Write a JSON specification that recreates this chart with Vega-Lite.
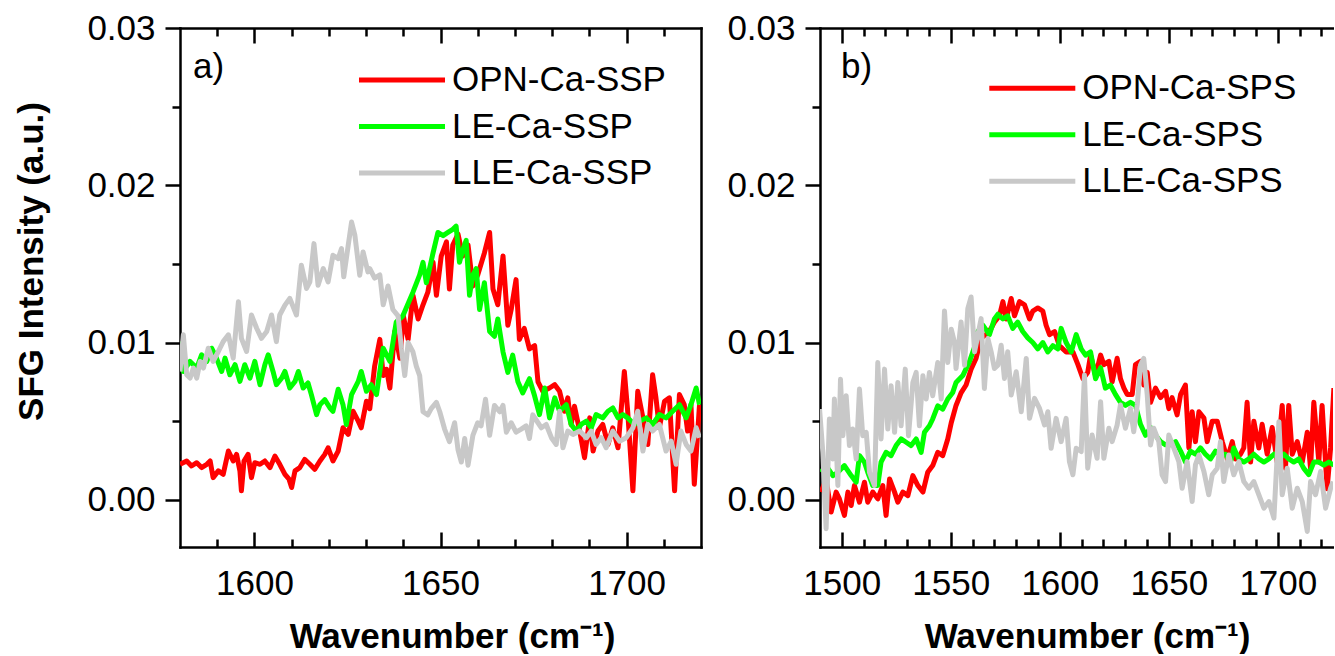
{
  "$schema": "https://vega.github.io/schema/vega-lite/v6.json",
  "background": "white",
  "padding": {"left": 14, "top": 11, "right": 0, "bottom": 0},
  "config": {
    "view": {"stroke": null},
    "font": "Liberation Sans",
    "axis": {"grid": false, "domainColor": "#000000", "domainWidth": 2.5, "domainCap": "square", "tickColor": "#000000", "tickWidth": 2.5, "labelColor": "#000000", "titleColor": "#000000", "labelFont": "Liberation Sans", "titleFont": "Liberation Sans", "labelFontSize": 35, "titleFontSize": 35, "titleFontWeight": "bold", "labelOverlap": false, "labelFlush": false}
  },
  "datasets": {
    "ssp": [
      {"s":"OPN-Ca-SSP","x":1580.0,"y":0.00226},{"s":"OPN-Ca-SSP","x":1581.8,"y":0.00247},{"s":"OPN-Ca-SSP","x":1583.1,"y":0.00215},{"s":"OPN-Ca-SSP","x":1584.5,"y":0.00236},{"s":"OPN-Ca-SSP","x":1585.8,"y":0.00205},{"s":"OPN-Ca-SSP","x":1587.2,"y":0.00226},{"s":"OPN-Ca-SSP","x":1588.1,"y":0.00247},{"s":"OPN-Ca-SSP","x":1588.9,"y":0.00141},{"s":"OPN-Ca-SSP","x":1590.3,"y":0.00184},{"s":"OPN-Ca-SSP","x":1591.6,"y":0.00162},{"s":"OPN-Ca-SSP","x":1593.0,"y":0.0031},{"s":"OPN-Ca-SSP","x":1594.3,"y":0.00247},{"s":"OPN-Ca-SSP","x":1595.2,"y":0.00289},{"s":"OPN-Ca-SSP","x":1596.1,"y":0.00184},{"s":"OPN-Ca-SSP","x":1596.5,"y":0.00057},{"s":"OPN-Ca-SSP","x":1597.2,"y":0.00247},{"s":"OPN-Ca-SSP","x":1598.3,"y":0.00289},{"s":"OPN-Ca-SSP","x":1599.2,"y":0.00141},{"s":"OPN-Ca-SSP","x":1600.1,"y":0.00236},{"s":"OPN-Ca-SSP","x":1601.5,"y":0.00226},{"s":"OPN-Ca-SSP","x":1602.8,"y":0.00247},{"s":"OPN-Ca-SSP","x":1604.2,"y":0.00205},{"s":"OPN-Ca-SSP","x":1605.5,"y":0.00278},{"s":"OPN-Ca-SSP","x":1606.8,"y":0.00226},{"s":"OPN-Ca-SSP","x":1608.2,"y":0.00162},{"s":"OPN-Ca-SSP","x":1609.3,"y":0.00131},{"s":"OPN-Ca-SSP","x":1610.0,"y":0.00078},{"s":"OPN-Ca-SSP","x":1610.9,"y":0.00184},{"s":"OPN-Ca-SSP","x":1612.2,"y":0.00205},{"s":"OPN-Ca-SSP","x":1613.5,"y":0.00257},{"s":"OPN-Ca-SSP","x":1614.9,"y":0.00226},{"s":"OPN-Ca-SSP","x":1616.2,"y":0.00194},{"s":"OPN-Ca-SSP","x":1617.6,"y":0.00247},{"s":"OPN-Ca-SSP","x":1618.9,"y":0.00289},{"s":"OPN-Ca-SSP","x":1619.8,"y":0.00331},{"s":"OPN-Ca-SSP","x":1621.1,"y":0.00247},{"s":"OPN-Ca-SSP","x":1622.5,"y":0.0031},{"s":"OPN-Ca-SSP","x":1623.8,"y":0.00458},{"s":"OPN-Ca-SSP","x":1625.2,"y":0.00416},{"s":"OPN-Ca-SSP","x":1626.5,"y":0.00563},{"s":"OPN-Ca-SSP","x":1627.9,"y":0.005},{"s":"OPN-Ca-SSP","x":1628.7,"y":0.00458},{"s":"OPN-Ca-SSP","x":1630.1,"y":0.00627},{"s":"OPN-Ca-SSP","x":1631.0,"y":0.0058},{"s":"OPN-Ca-SSP","x":1632.3,"y":0.0085},{"s":"OPN-Ca-SSP","x":1633.7,"y":0.0102},{"s":"OPN-Ca-SSP","x":1634.6,"y":0.0079},{"s":"OPN-Ca-SSP","x":1635.5,"y":0.0083},{"s":"OPN-Ca-SSP","x":1636.4,"y":0.0071},{"s":"OPN-Ca-SSP","x":1637.7,"y":0.0107},{"s":"OPN-Ca-SSP","x":1639.1,"y":0.009},{"s":"OPN-Ca-SSP","x":1640.0,"y":0.0117},{"s":"OPN-Ca-SSP","x":1641.3,"y":0.0102},{"s":"OPN-Ca-SSP","x":1642.6,"y":0.013},{"s":"OPN-Ca-SSP","x":1644.0,"y":0.0115},{"s":"OPN-Ca-SSP","x":1645.3,"y":0.0124},{"s":"OPN-Ca-SSP","x":1646.6,"y":0.0132},{"s":"OPN-Ca-SSP","x":1648.0,"y":0.0151},{"s":"OPN-Ca-SSP","x":1648.9,"y":0.013},{"s":"OPN-Ca-SSP","x":1650.2,"y":0.0155},{"s":"OPN-Ca-SSP","x":1651.6,"y":0.0164},{"s":"OPN-Ca-SSP","x":1652.4,"y":0.0134},{"s":"OPN-Ca-SSP","x":1653.3,"y":0.0162},{"s":"OPN-Ca-SSP","x":1654.7,"y":0.0169},{"s":"OPN-Ca-SSP","x":1656.0,"y":0.0155},{"s":"OPN-Ca-SSP","x":1657.4,"y":0.0162},{"s":"OPN-Ca-SSP","x":1658.7,"y":0.0136},{"s":"OPN-Ca-SSP","x":1660.0,"y":0.0143},{"s":"OPN-Ca-SSP","x":1661.8,"y":0.0157},{"s":"OPN-Ca-SSP","x":1663.2,"y":0.017},{"s":"OPN-Ca-SSP","x":1664.1,"y":0.0134},{"s":"OPN-Ca-SSP","x":1665.4,"y":0.0124},{"s":"OPN-Ca-SSP","x":1666.8,"y":0.0155},{"s":"OPN-Ca-SSP","x":1668.1,"y":0.0111},{"s":"OPN-Ca-SSP","x":1669.0,"y":0.0121},{"s":"OPN-Ca-SSP","x":1670.3,"y":0.014},{"s":"OPN-Ca-SSP","x":1671.2,"y":0.0102},{"s":"OPN-Ca-SSP","x":1672.5,"y":0.0109},{"s":"OPN-Ca-SSP","x":1673.9,"y":0.0096},{"s":"OPN-Ca-SSP","x":1675.3,"y":0.0098},{"s":"OPN-Ca-SSP","x":1676.2,"y":0.0075},{"s":"OPN-Ca-SSP","x":1677.5,"y":0.0069},{"s":"OPN-Ca-SSP","x":1679.3,"y":0.00711},{"s":"OPN-Ca-SSP","x":1680.7,"y":0.00732},{"s":"OPN-Ca-SSP","x":1682.0,"y":0.0069},{"s":"OPN-Ca-SSP","x":1683.3,"y":0.00563},{"s":"OPN-Ca-SSP","x":1684.2,"y":0.00648},{"s":"OPN-Ca-SSP","x":1685.1,"y":0.00479},{"s":"OPN-Ca-SSP","x":1686.0,"y":0.00595},{"s":"OPN-Ca-SSP","x":1687.4,"y":0.00437},{"s":"OPN-Ca-SSP","x":1688.7,"y":0.00268},{"s":"OPN-Ca-SSP","x":1690.1,"y":0.00521},{"s":"OPN-Ca-SSP","x":1691.0,"y":0.0031},{"s":"OPN-Ca-SSP","x":1692.3,"y":0.00437},{"s":"OPN-Ca-SSP","x":1693.6,"y":0.00479},{"s":"OPN-Ca-SSP","x":1695.0,"y":0.00352},{"s":"OPN-Ca-SSP","x":1696.3,"y":0.00458},{"s":"OPN-Ca-SSP","x":1697.7,"y":0.00331},{"s":"OPN-Ca-SSP","x":1699.4,"y":0.00816},{"s":"OPN-Ca-SSP","x":1700.3,"y":0.00563},{"s":"OPN-Ca-SSP","x":1701.7,"y":0.00057},{"s":"OPN-Ca-SSP","x":1703.0,"y":0.0069},{"s":"OPN-Ca-SSP","x":1704.4,"y":0.00521},{"s":"OPN-Ca-SSP","x":1705.7,"y":0.00352},{"s":"OPN-Ca-SSP","x":1707.0,"y":0.00795},{"s":"OPN-Ca-SSP","x":1707.9,"y":0.00648},{"s":"OPN-Ca-SSP","x":1708.8,"y":0.00458},{"s":"OPN-Ca-SSP","x":1710.2,"y":0.00627},{"s":"OPN-Ca-SSP","x":1711.5,"y":0.00648},{"s":"OPN-Ca-SSP","x":1712.9,"y":0.00057},{"s":"OPN-Ca-SSP","x":1714.2,"y":0.00669},{"s":"OPN-Ca-SSP","x":1715.5,"y":0.00605},{"s":"OPN-Ca-SSP","x":1716.4,"y":0.00437},{"s":"OPN-Ca-SSP","x":1717.3,"y":0.00605},{"s":"OPN-Ca-SSP","x":1718.2,"y":0.00099},{"s":"OPN-Ca-SSP","x":1719.6,"y":0.00605},
      {"s":"LE-Ca-SSP","x":1580.0,"y":0.01006},{"s":"LE-Ca-SSP","x":1580.9,"y":0.00816},{"s":"LE-Ca-SSP","x":1582.7,"y":0.0088},{"s":"LE-Ca-SSP","x":1584.5,"y":0.00838},{"s":"LE-Ca-SSP","x":1585.8,"y":0.00922},{"s":"LE-Ca-SSP","x":1587.2,"y":0.0088},{"s":"LE-Ca-SSP","x":1588.5,"y":0.00964},{"s":"LE-Ca-SSP","x":1589.8,"y":0.00901},{"s":"LE-Ca-SSP","x":1591.2,"y":0.00816},{"s":"LE-Ca-SSP","x":1592.1,"y":0.00901},{"s":"LE-Ca-SSP","x":1593.4,"y":0.00795},{"s":"LE-Ca-SSP","x":1594.8,"y":0.00859},{"s":"LE-Ca-SSP","x":1596.1,"y":0.00753},{"s":"LE-Ca-SSP","x":1597.4,"y":0.00859},{"s":"LE-Ca-SSP","x":1598.8,"y":0.00774},{"s":"LE-Ca-SSP","x":1600.1,"y":0.0088},{"s":"LE-Ca-SSP","x":1601.5,"y":0.00732},{"s":"LE-Ca-SSP","x":1602.8,"y":0.00859},{"s":"LE-Ca-SSP","x":1603.7,"y":0.00922},{"s":"LE-Ca-SSP","x":1605.0,"y":0.00816},{"s":"LE-Ca-SSP","x":1605.9,"y":0.00732},{"s":"LE-Ca-SSP","x":1607.3,"y":0.00774},{"s":"LE-Ca-SSP","x":1608.2,"y":0.00816},{"s":"LE-Ca-SSP","x":1609.5,"y":0.00711},{"s":"LE-Ca-SSP","x":1610.9,"y":0.00753},{"s":"LE-Ca-SSP","x":1611.8,"y":0.00816},{"s":"LE-Ca-SSP","x":1613.1,"y":0.00711},{"s":"LE-Ca-SSP","x":1614.4,"y":0.00743},{"s":"LE-Ca-SSP","x":1615.3,"y":0.00669},{"s":"LE-Ca-SSP","x":1616.7,"y":0.00542},{"s":"LE-Ca-SSP","x":1617.6,"y":0.00605},{"s":"LE-Ca-SSP","x":1618.9,"y":0.00637},{"s":"LE-Ca-SSP","x":1620.3,"y":0.00584},{"s":"LE-Ca-SSP","x":1621.1,"y":0.00563},{"s":"LE-Ca-SSP","x":1622.5,"y":0.00703},{"s":"LE-Ca-SSP","x":1623.8,"y":0.00605},{"s":"LE-Ca-SSP","x":1624.7,"y":0.00479},{"s":"LE-Ca-SSP","x":1626.1,"y":0.00669},{"s":"LE-Ca-SSP","x":1627.9,"y":0.00753},{"s":"LE-Ca-SSP","x":1628.7,"y":0.00816},{"s":"LE-Ca-SSP","x":1630.1,"y":0.0069},{"s":"LE-Ca-SSP","x":1631.4,"y":0.00732},{"s":"LE-Ca-SSP","x":1632.8,"y":0.00669},{"s":"LE-Ca-SSP","x":1634.6,"y":0.00964},{"s":"LE-Ca-SSP","x":1636.4,"y":0.0088},{"s":"LE-Ca-SSP","x":1638.1,"y":0.0113},{"s":"LE-Ca-SSP","x":1639.9,"y":0.0117},{"s":"LE-Ca-SSP","x":1642.6,"y":0.0132},{"s":"LE-Ca-SSP","x":1644.4,"y":0.0143},{"s":"LE-Ca-SSP","x":1645.3,"y":0.0151},{"s":"LE-Ca-SSP","x":1646.2,"y":0.0138},{"s":"LE-Ca-SSP","x":1648.0,"y":0.0157},{"s":"LE-Ca-SSP","x":1649.3,"y":0.017},{"s":"LE-Ca-SSP","x":1650.7,"y":0.0168},{"s":"LE-Ca-SSP","x":1652.0,"y":0.017},{"s":"LE-Ca-SSP","x":1653.3,"y":0.0172},{"s":"LE-Ca-SSP","x":1654.2,"y":0.0174},{"s":"LE-Ca-SSP","x":1655.1,"y":0.0151},{"s":"LE-Ca-SSP","x":1656.0,"y":0.0159},{"s":"LE-Ca-SSP","x":1656.9,"y":0.0165},{"s":"LE-Ca-SSP","x":1657.8,"y":0.013},{"s":"LE-Ca-SSP","x":1658.7,"y":0.0143},{"s":"LE-Ca-SSP","x":1659.6,"y":0.0147},{"s":"LE-Ca-SSP","x":1660.5,"y":0.0121},{"s":"LE-Ca-SSP","x":1661.8,"y":0.0138},{"s":"LE-Ca-SSP","x":1663.2,"y":0.0107},{"s":"LE-Ca-SSP","x":1664.5,"y":0.0104},{"s":"LE-Ca-SSP","x":1665.4,"y":0.0115},{"s":"LE-Ca-SSP","x":1666.8,"y":0.0094},{"s":"LE-Ca-SSP","x":1668.1,"y":0.0081},{"s":"LE-Ca-SSP","x":1669.4,"y":0.0092},{"s":"LE-Ca-SSP","x":1670.8,"y":0.0075},{"s":"LE-Ca-SSP","x":1672.1,"y":0.0068},{"s":"LE-Ca-SSP","x":1673.9,"y":0.0077},{"s":"LE-Ca-SSP","x":1675.3,"y":0.0066},{"s":"LE-Ca-SSP","x":1676.6,"y":0.00542},{"s":"LE-Ca-SSP","x":1678.0,"y":0.00711},{"s":"LE-Ca-SSP","x":1679.3,"y":0.00521},{"s":"LE-Ca-SSP","x":1680.7,"y":0.00648},{"s":"LE-Ca-SSP","x":1682.0,"y":0.00563},{"s":"LE-Ca-SSP","x":1683.8,"y":0.00605},{"s":"LE-Ca-SSP","x":1685.1,"y":0.00479},{"s":"LE-Ca-SSP","x":1686.5,"y":0.00437},{"s":"LE-Ca-SSP","x":1687.8,"y":0.00479},{"s":"LE-Ca-SSP","x":1689.2,"y":0.005},{"s":"LE-Ca-SSP","x":1690.5,"y":0.00458},{"s":"LE-Ca-SSP","x":1691.8,"y":0.00542},{"s":"LE-Ca-SSP","x":1693.6,"y":0.00521},{"s":"LE-Ca-SSP","x":1695.0,"y":0.00563},{"s":"LE-Ca-SSP","x":1696.3,"y":0.00584},{"s":"LE-Ca-SSP","x":1697.7,"y":0.00521},{"s":"LE-Ca-SSP","x":1699.0,"y":0.00542},{"s":"LE-Ca-SSP","x":1700.3,"y":0.00521},{"s":"LE-Ca-SSP","x":1702.1,"y":0.00479},{"s":"LE-Ca-SSP","x":1703.5,"y":0.005},{"s":"LE-Ca-SSP","x":1705.3,"y":0.00521},{"s":"LE-Ca-SSP","x":1707.0,"y":0.00479},{"s":"LE-Ca-SSP","x":1708.8,"y":0.00542},{"s":"LE-Ca-SSP","x":1710.6,"y":0.00521},{"s":"LE-Ca-SSP","x":1712.4,"y":0.00563},{"s":"LE-Ca-SSP","x":1714.2,"y":0.00605},{"s":"LE-Ca-SSP","x":1716.0,"y":0.00521},{"s":"LE-Ca-SSP","x":1717.3,"y":0.00605},{"s":"LE-Ca-SSP","x":1718.7,"y":0.00711},{"s":"LE-Ca-SSP","x":1719.6,"y":0.00605},
      {"s":"LLE-Ca-SSP","x":1580.0,"y":0.00816},{"s":"LLE-Ca-SSP","x":1580.9,"y":0.01049},{"s":"LLE-Ca-SSP","x":1581.8,"y":0.00795},{"s":"LLE-Ca-SSP","x":1582.7,"y":0.00774},{"s":"LLE-Ca-SSP","x":1583.6,"y":0.00838},{"s":"LLE-Ca-SSP","x":1584.5,"y":0.00774},{"s":"LLE-Ca-SSP","x":1585.4,"y":0.0088},{"s":"LLE-Ca-SSP","x":1586.3,"y":0.00838},{"s":"LLE-Ca-SSP","x":1587.6,"y":0.00964},{"s":"LLE-Ca-SSP","x":1588.9,"y":0.0088},{"s":"LLE-Ca-SSP","x":1590.3,"y":0.00943},{"s":"LLE-Ca-SSP","x":1591.6,"y":0.01006},{"s":"LLE-Ca-SSP","x":1593.0,"y":0.01049},{"s":"LLE-Ca-SSP","x":1594.3,"y":0.00901},{"s":"LLE-Ca-SSP","x":1595.7,"y":0.01259},{"s":"LLE-Ca-SSP","x":1596.5,"y":0.01027},{"s":"LLE-Ca-SSP","x":1597.9,"y":0.00943},{"s":"LLE-Ca-SSP","x":1599.2,"y":0.01175},{"s":"LLE-Ca-SSP","x":1600.6,"y":0.01091},{"s":"LLE-Ca-SSP","x":1601.9,"y":0.01027},{"s":"LLE-Ca-SSP","x":1603.3,"y":0.0107},{"s":"LLE-Ca-SSP","x":1604.6,"y":0.01175},{"s":"LLE-Ca-SSP","x":1605.9,"y":0.01006},{"s":"LLE-Ca-SSP","x":1606.8,"y":0.01175},{"s":"LLE-Ca-SSP","x":1608.2,"y":0.01238},{"s":"LLE-Ca-SSP","x":1609.5,"y":0.01281},{"s":"LLE-Ca-SSP","x":1611.3,"y":0.01175},{"s":"LLE-Ca-SSP","x":1612.6,"y":0.01492},{"s":"LLE-Ca-SSP","x":1614.0,"y":0.01344},{"s":"LLE-Ca-SSP","x":1614.9,"y":0.01386},{"s":"LLE-Ca-SSP","x":1616.0,"y":0.01629},{"s":"LLE-Ca-SSP","x":1617.1,"y":0.01365},{"s":"LLE-Ca-SSP","x":1618.5,"y":0.0147},{"s":"LLE-Ca-SSP","x":1619.8,"y":0.01386},{"s":"LLE-Ca-SSP","x":1621.1,"y":0.01555},{"s":"LLE-Ca-SSP","x":1622.5,"y":0.01534},{"s":"LLE-Ca-SSP","x":1623.4,"y":0.01597},{"s":"LLE-Ca-SSP","x":1624.0,"y":0.01418},{"s":"LLE-Ca-SSP","x":1625.2,"y":0.01618},{"s":"LLE-Ca-SSP","x":1626.1,"y":0.01766},{"s":"LLE-Ca-SSP","x":1627.0,"y":0.01681},{"s":"LLE-Ca-SSP","x":1628.3,"y":0.01428},{"s":"LLE-Ca-SSP","x":1629.2,"y":0.01576},{"s":"LLE-Ca-SSP","x":1630.5,"y":0.01449},{"s":"LLE-Ca-SSP","x":1631.0,"y":0.0147},{"s":"LLE-Ca-SSP","x":1632.3,"y":0.0141},{"s":"LLE-Ca-SSP","x":1633.7,"y":0.0143},{"s":"LLE-Ca-SSP","x":1634.6,"y":0.0124},{"s":"LLE-Ca-SSP","x":1635.9,"y":0.0136},{"s":"LLE-Ca-SSP","x":1637.2,"y":0.0121},{"s":"LLE-Ca-SSP","x":1638.6,"y":0.0117},{"s":"LLE-Ca-SSP","x":1639.5,"y":0.0096},{"s":"LLE-Ca-SSP","x":1640.4,"y":0.0079},{"s":"LLE-Ca-SSP","x":1641.3,"y":0.01},{"s":"LLE-Ca-SSP","x":1642.6,"y":0.0094},{"s":"LLE-Ca-SSP","x":1643.5,"y":0.0085},{"s":"LLE-Ca-SSP","x":1644.4,"y":0.0079},{"s":"LLE-Ca-SSP","x":1645.3,"y":0.0056},{"s":"LLE-Ca-SSP","x":1646.6,"y":0.0054},{"s":"LLE-Ca-SSP","x":1647.5,"y":0.0058},{"s":"LLE-Ca-SSP","x":1648.9,"y":0.0062},{"s":"LLE-Ca-SSP","x":1649.8,"y":0.0056},{"s":"LLE-Ca-SSP","x":1651.1,"y":0.0045},{"s":"LLE-Ca-SSP","x":1652.4,"y":0.0037},{"s":"LLE-Ca-SSP","x":1653.8,"y":0.0049},{"s":"LLE-Ca-SSP","x":1654.7,"y":0.0032},{"s":"LLE-Ca-SSP","x":1655.6,"y":0.0024},{"s":"LLE-Ca-SSP","x":1656.5,"y":0.0039},{"s":"LLE-Ca-SSP","x":1657.4,"y":0.0022},{"s":"LLE-Ca-SSP","x":1658.7,"y":0.0041},{"s":"LLE-Ca-SSP","x":1660.0,"y":0.0049},{"s":"LLE-Ca-SSP","x":1660.9,"y":0.0047},{"s":"LLE-Ca-SSP","x":1662.1,"y":0.0064},{"s":"LLE-Ca-SSP","x":1663.2,"y":0.0041},{"s":"LLE-Ca-SSP","x":1664.5,"y":0.006},{"s":"LLE-Ca-SSP","x":1665.9,"y":0.0056},{"s":"LLE-Ca-SSP","x":1666.8,"y":0.006},{"s":"LLE-Ca-SSP","x":1667.7,"y":0.0043},{"s":"LLE-Ca-SSP","x":1669.0,"y":0.0049},{"s":"LLE-Ca-SSP","x":1670.3,"y":0.0043},{"s":"LLE-Ca-SSP","x":1671.7,"y":0.0045},{"s":"LLE-Ca-SSP","x":1673.0,"y":0.0047},{"s":"LLE-Ca-SSP","x":1673.9,"y":0.0039},{"s":"LLE-Ca-SSP","x":1674.8,"y":0.0054},{"s":"LLE-Ca-SSP","x":1676.2,"y":0.0049},{"s":"LLE-Ca-SSP","x":1677.1,"y":0.00458},{"s":"LLE-Ca-SSP","x":1678.4,"y":0.00479},{"s":"LLE-Ca-SSP","x":1679.8,"y":0.00395},{"s":"LLE-Ca-SSP","x":1681.1,"y":0.00352},{"s":"LLE-Ca-SSP","x":1682.0,"y":0.00563},{"s":"LLE-Ca-SSP","x":1682.9,"y":0.00331},{"s":"LLE-Ca-SSP","x":1684.2,"y":0.00437},{"s":"LLE-Ca-SSP","x":1685.6,"y":0.00416},{"s":"LLE-Ca-SSP","x":1687.4,"y":0.00437},{"s":"LLE-Ca-SSP","x":1689.2,"y":0.00395},{"s":"LLE-Ca-SSP","x":1690.5,"y":0.00437},{"s":"LLE-Ca-SSP","x":1691.8,"y":0.00352},{"s":"LLE-Ca-SSP","x":1693.2,"y":0.00395},{"s":"LLE-Ca-SSP","x":1694.5,"y":0.00331},{"s":"LLE-Ca-SSP","x":1696.3,"y":0.00437},{"s":"LLE-Ca-SSP","x":1698.1,"y":0.00373},{"s":"LLE-Ca-SSP","x":1699.9,"y":0.00395},{"s":"LLE-Ca-SSP","x":1701.7,"y":0.00458},{"s":"LLE-Ca-SSP","x":1703.0,"y":0.00563},{"s":"LLE-Ca-SSP","x":1704.4,"y":0.0031},{"s":"LLE-Ca-SSP","x":1705.7,"y":0.00479},{"s":"LLE-Ca-SSP","x":1707.0,"y":0.00437},{"s":"LLE-Ca-SSP","x":1708.8,"y":0.00479},{"s":"LLE-Ca-SSP","x":1710.6,"y":0.0031},{"s":"LLE-Ca-SSP","x":1712.0,"y":0.00373},{"s":"LLE-Ca-SSP","x":1713.3,"y":0.00226},{"s":"LLE-Ca-SSP","x":1714.6,"y":0.00437},{"s":"LLE-Ca-SSP","x":1716.0,"y":0.00352},{"s":"LLE-Ca-SSP","x":1717.3,"y":0.0031},{"s":"LLE-Ca-SSP","x":1718.7,"y":0.00458},{"s":"LLE-Ca-SSP","x":1719.6,"y":0.00395}
    ],
    "sps": [
      {"s":"OPN-Ca-SPS","x":1490.5,"y":0.00049},{"s":"OPN-Ca-SPS","x":1492.8,"y":0.00133},{"s":"OPN-Ca-SPS","x":1495.1,"y":-0.00078},{"s":"OPN-Ca-SPS","x":1497.4,"y":0.00049},{"s":"OPN-Ca-SPS","x":1498.9,"y":0.00006},{"s":"OPN-Ca-SPS","x":1501.2,"y":-0.00099},{"s":"OPN-Ca-SPS","x":1502.8,"y":0.00049},{"s":"OPN-Ca-SPS","x":1504.3,"y":-0.00036},{"s":"OPN-Ca-SPS","x":1505.8,"y":0.00091},{"s":"OPN-Ca-SPS","x":1508.1,"y":-0.00015},{"s":"OPN-Ca-SPS","x":1510.4,"y":0.00112},{"s":"OPN-Ca-SPS","x":1511.9,"y":-0.00015},{"s":"OPN-Ca-SPS","x":1514.2,"y":0.00049},{"s":"OPN-Ca-SPS","x":1516.5,"y":0.00006},{"s":"OPN-Ca-SPS","x":1518.8,"y":0.00091},{"s":"OPN-Ca-SPS","x":1520.3,"y":-0.00099},{"s":"OPN-Ca-SPS","x":1521.9,"y":0.00133},{"s":"OPN-Ca-SPS","x":1524.2,"y":0.00049},{"s":"OPN-Ca-SPS","x":1525.7,"y":-0.00015},{"s":"OPN-Ca-SPS","x":1528.0,"y":0.00049},{"s":"OPN-Ca-SPS","x":1530.3,"y":0.00027},{"s":"OPN-Ca-SPS","x":1532.6,"y":0.00154},{"s":"OPN-Ca-SPS","x":1534.9,"y":0.00091},{"s":"OPN-Ca-SPS","x":1537.2,"y":0.00049},{"s":"OPN-Ca-SPS","x":1539.4,"y":0.00175},{"s":"OPN-Ca-SPS","x":1541.7,"y":0.00218},{"s":"OPN-Ca-SPS","x":1544.0,"y":0.00302},{"s":"OPN-Ca-SPS","x":1546.3,"y":0.00281},{"s":"OPN-Ca-SPS","x":1548.6,"y":0.00387},{"s":"OPN-Ca-SPS","x":1550.2,"y":0.0049},{"s":"OPN-Ca-SPS","x":1552.4,"y":0.006},{"s":"OPN-Ca-SPS","x":1554.7,"y":0.0068},{"s":"OPN-Ca-SPS","x":1557.0,"y":0.0073},{"s":"OPN-Ca-SPS","x":1559.3,"y":0.0083},{"s":"OPN-Ca-SPS","x":1561.6,"y":0.009},{"s":"OPN-Ca-SPS","x":1563.9,"y":0.0103},{"s":"OPN-Ca-SPS","x":1566.2,"y":0.0105},{"s":"OPN-Ca-SPS","x":1568.5,"y":0.0109},{"s":"OPN-Ca-SPS","x":1570.0,"y":0.0113},{"s":"OPN-Ca-SPS","x":1572.3,"y":0.0117},{"s":"OPN-Ca-SPS","x":1573.9,"y":0.0126},{"s":"OPN-Ca-SPS","x":1575.4,"y":0.0115},{"s":"OPN-Ca-SPS","x":1577.7,"y":0.0128},{"s":"OPN-Ca-SPS","x":1579.2,"y":0.0117},{"s":"OPN-Ca-SPS","x":1581.5,"y":0.0126},{"s":"OPN-Ca-SPS","x":1583.8,"y":0.0124},{"s":"OPN-Ca-SPS","x":1586.1,"y":0.0115},{"s":"OPN-Ca-SPS","x":1587.6,"y":0.012},{"s":"OPN-Ca-SPS","x":1589.9,"y":0.0122},{"s":"OPN-Ca-SPS","x":1592.2,"y":0.012},{"s":"OPN-Ca-SPS","x":1593.7,"y":0.0111},{"s":"OPN-Ca-SPS","x":1595.3,"y":0.0105},{"s":"OPN-Ca-SPS","x":1597.6,"y":0.0107},{"s":"OPN-Ca-SPS","x":1599.8,"y":0.0098},{"s":"OPN-Ca-SPS","x":1602.9,"y":0.0094},{"s":"OPN-Ca-SPS","x":1606.0,"y":0.0094},{"s":"OPN-Ca-SPS","x":1608.3,"y":0.0086},{"s":"OPN-Ca-SPS","x":1610.6,"y":0.0077},{"s":"OPN-Ca-SPS","x":1612.8,"y":0.0081},{"s":"OPN-Ca-SPS","x":1614.1,"y":0.0092},{"s":"OPN-Ca-SPS","x":1616.4,"y":0.0079},{"s":"OPN-Ca-SPS","x":1618.7,"y":0.0092},{"s":"OPN-Ca-SPS","x":1620.2,"y":0.0086},{"s":"OPN-Ca-SPS","x":1622.5,"y":0.0088},{"s":"OPN-Ca-SPS","x":1624.0,"y":0.0075},{"s":"OPN-Ca-SPS","x":1626.3,"y":0.009},{"s":"OPN-Ca-SPS","x":1627.8,"y":0.0077},{"s":"OPN-Ca-SPS","x":1629.4,"y":0.0071},{"s":"OPN-Ca-SPS","x":1630.9,"y":0.0067},{"s":"OPN-Ca-SPS","x":1633.2,"y":0.0067},{"s":"OPN-Ca-SPS","x":1634.7,"y":0.0086},{"s":"OPN-Ca-SPS","x":1637.0,"y":0.0088},{"s":"OPN-Ca-SPS","x":1638.5,"y":0.0073},{"s":"OPN-Ca-SPS","x":1640.1,"y":0.0081},{"s":"OPN-Ca-SPS","x":1641.6,"y":0.0062},{"s":"OPN-Ca-SPS","x":1643.9,"y":0.0071},{"s":"OPN-Ca-SPS","x":1646.2,"y":0.0065},{"s":"OPN-Ca-SPS","x":1648.5,"y":0.0069},{"s":"OPN-Ca-SPS","x":1650.0,"y":0.0058},{"s":"OPN-Ca-SPS","x":1651.5,"y":0.0065},{"s":"OPN-Ca-SPS","x":1653.8,"y":0.0054},{"s":"OPN-Ca-SPS","x":1655.4,"y":0.0067},{"s":"OPN-Ca-SPS","x":1657.6,"y":0.0073},{"s":"OPN-Ca-SPS","x":1659.2,"y":0.0033},{"s":"OPN-Ca-SPS","x":1660.7,"y":0.0056},{"s":"OPN-Ca-SPS","x":1662.2,"y":0.0037},{"s":"OPN-Ca-SPS","x":1663.8,"y":0.0056},{"s":"OPN-Ca-SPS","x":1666.1,"y":0.0052},{"s":"OPN-Ca-SPS","x":1667.6,"y":0.0037},{"s":"OPN-Ca-SPS","x":1669.9,"y":0.005},{"s":"OPN-Ca-SPS","x":1672.2,"y":0.005},{"s":"OPN-Ca-SPS","x":1674.5,"y":0.0037},{"s":"OPN-Ca-SPS","x":1676.8,"y":0.0026},{"s":"OPN-Ca-SPS","x":1679.1,"y":0.0037},{"s":"OPN-Ca-SPS","x":1680.6,"y":0.0026},{"s":"OPN-Ca-SPS","x":1682.9,"y":0.0029},{"s":"OPN-Ca-SPS","x":1684.4,"y":0.0033},{"s":"OPN-Ca-SPS","x":1685.9,"y":0.0062},{"s":"OPN-Ca-SPS","x":1687.5,"y":0.0024},{"s":"OPN-Ca-SPS","x":1689.0,"y":0.005},{"s":"OPN-Ca-SPS","x":1691.3,"y":0.0033},{"s":"OPN-Ca-SPS","x":1692.8,"y":0.0048},{"s":"OPN-Ca-SPS","x":1695.1,"y":0.0029},{"s":"OPN-Ca-SPS","x":1697.4,"y":0.0046},{"s":"OPN-Ca-SPS","x":1699.7,"y":0.0024},{"s":"OPN-Ca-SPS","x":1702.0,"y":0.006},{"s":"OPN-Ca-SPS","x":1703.5,"y":0.002},{"s":"OPN-Ca-SPS","x":1705.0,"y":0.006},{"s":"OPN-Ca-SPS","x":1706.6,"y":0.0029},{"s":"OPN-Ca-SPS","x":1708.9,"y":0.0037},{"s":"OPN-Ca-SPS","x":1711.2,"y":0.0024},{"s":"OPN-Ca-SPS","x":1713.5,"y":0.0043},{"s":"OPN-Ca-SPS","x":1715.0,"y":0.002},{"s":"OPN-Ca-SPS","x":1716.5,"y":0.0062},{"s":"OPN-Ca-SPS","x":1718.8,"y":0.0024},{"s":"OPN-Ca-SPS","x":1720.3,"y":0.006},{"s":"OPN-Ca-SPS","x":1722.6,"y":0.0007},{"s":"OPN-Ca-SPS","x":1724.2,"y":0.0033},{"s":"OPN-Ca-SPS","x":1725.7,"y":0.0071},
      {"s":"LE-Ca-SPS","x":1490.5,"y":0.00175},{"s":"LE-Ca-SPS","x":1492.8,"y":0.00218},{"s":"LE-Ca-SPS","x":1495.9,"y":0.00154},{"s":"LE-Ca-SPS","x":1498.2,"y":0.00175},{"s":"LE-Ca-SPS","x":1501.2,"y":0.00218},{"s":"LE-Ca-SPS","x":1504.3,"y":0.00154},{"s":"LE-Ca-SPS","x":1506.6,"y":0.00112},{"s":"LE-Ca-SPS","x":1508.1,"y":0.00281},{"s":"LE-Ca-SPS","x":1510.4,"y":0.00239},{"s":"LE-Ca-SPS","x":1511.9,"y":0.00175},{"s":"LE-Ca-SPS","x":1514.2,"y":0.00091},{"s":"LE-Ca-SPS","x":1516.5,"y":0.00091},{"s":"LE-Ca-SPS","x":1518.0,"y":0.00239},{"s":"LE-Ca-SPS","x":1520.3,"y":0.00302},{"s":"LE-Ca-SPS","x":1522.6,"y":0.00281},{"s":"LE-Ca-SPS","x":1524.9,"y":0.00345},{"s":"LE-Ca-SPS","x":1527.2,"y":0.00387},{"s":"LE-Ca-SPS","x":1529.5,"y":0.00366},{"s":"LE-Ca-SPS","x":1531.8,"y":0.00345},{"s":"LE-Ca-SPS","x":1534.1,"y":0.00387},{"s":"LE-Ca-SPS","x":1536.4,"y":0.00302},{"s":"LE-Ca-SPS","x":1537.9,"y":0.00429},{"s":"LE-Ca-SPS","x":1540.2,"y":0.00471},{"s":"LE-Ca-SPS","x":1541.7,"y":0.00514},{"s":"LE-Ca-SPS","x":1544.0,"y":0.00598},{"s":"LE-Ca-SPS","x":1546.3,"y":0.00577},{"s":"LE-Ca-SPS","x":1548.6,"y":0.00641},{"s":"LE-Ca-SPS","x":1550.9,"y":0.00683},{"s":"LE-Ca-SPS","x":1552.4,"y":0.00746},{"s":"LE-Ca-SPS","x":1555.5,"y":0.0079},{"s":"LE-Ca-SPS","x":1558.6,"y":0.0088},{"s":"LE-Ca-SPS","x":1561.6,"y":0.01},{"s":"LE-Ca-SPS","x":1562.4,"y":0.0107},{"s":"LE-Ca-SPS","x":1564.7,"y":0.0111},{"s":"LE-Ca-SPS","x":1567.7,"y":0.0105},{"s":"LE-Ca-SPS","x":1570.0,"y":0.0115},{"s":"LE-Ca-SPS","x":1571.6,"y":0.0118},{"s":"LE-Ca-SPS","x":1573.9,"y":0.0115},{"s":"LE-Ca-SPS","x":1576.1,"y":0.0117},{"s":"LE-Ca-SPS","x":1578.4,"y":0.0109},{"s":"LE-Ca-SPS","x":1580.7,"y":0.0113},{"s":"LE-Ca-SPS","x":1583.0,"y":0.0107},{"s":"LE-Ca-SPS","x":1585.3,"y":0.0103},{"s":"LE-Ca-SPS","x":1587.6,"y":0.01},{"s":"LE-Ca-SPS","x":1589.9,"y":0.0096},{"s":"LE-Ca-SPS","x":1592.2,"y":0.01},{"s":"LE-Ca-SPS","x":1594.5,"y":0.0094},{"s":"LE-Ca-SPS","x":1596.8,"y":0.0098},{"s":"LE-Ca-SPS","x":1599.1,"y":0.0096},{"s":"LE-Ca-SPS","x":1600.6,"y":0.0109},{"s":"LE-Ca-SPS","x":1602.9,"y":0.01},{"s":"LE-Ca-SPS","x":1605.2,"y":0.0094},{"s":"LE-Ca-SPS","x":1607.5,"y":0.0105},{"s":"LE-Ca-SPS","x":1609.8,"y":0.0096},{"s":"LE-Ca-SPS","x":1611.8,"y":0.0092},{"s":"LE-Ca-SPS","x":1614.1,"y":0.0094},{"s":"LE-Ca-SPS","x":1616.4,"y":0.0077},{"s":"LE-Ca-SPS","x":1618.7,"y":0.0084},{"s":"LE-Ca-SPS","x":1620.9,"y":0.0071},{"s":"LE-Ca-SPS","x":1623.2,"y":0.0073},{"s":"LE-Ca-SPS","x":1625.5,"y":0.0067},{"s":"LE-Ca-SPS","x":1627.8,"y":0.0062},{"s":"LE-Ca-SPS","x":1630.1,"y":0.006},{"s":"LE-Ca-SPS","x":1632.4,"y":0.0062},{"s":"LE-Ca-SPS","x":1634.7,"y":0.006},{"s":"LE-Ca-SPS","x":1637.0,"y":0.0048},{"s":"LE-Ca-SPS","x":1639.3,"y":0.0041},{"s":"LE-Ca-SPS","x":1641.6,"y":0.0046},{"s":"LE-Ca-SPS","x":1643.9,"y":0.0041},{"s":"LE-Ca-SPS","x":1646.2,"y":0.0037},{"s":"LE-Ca-SPS","x":1648.5,"y":0.0035},{"s":"LE-Ca-SPS","x":1650.8,"y":0.0035},{"s":"LE-Ca-SPS","x":1653.1,"y":0.0037},{"s":"LE-Ca-SPS","x":1655.4,"y":0.0031},{"s":"LE-Ca-SPS","x":1657.6,"y":0.0024},{"s":"LE-Ca-SPS","x":1659.9,"y":0.0031},{"s":"LE-Ca-SPS","x":1662.2,"y":0.0029},{"s":"LE-Ca-SPS","x":1664.5,"y":0.0033},{"s":"LE-Ca-SPS","x":1666.8,"y":0.0029},{"s":"LE-Ca-SPS","x":1669.1,"y":0.0026},{"s":"LE-Ca-SPS","x":1671.4,"y":0.0031},{"s":"LE-Ca-SPS","x":1673.7,"y":0.0029},{"s":"LE-Ca-SPS","x":1676.0,"y":0.0029},{"s":"LE-Ca-SPS","x":1678.3,"y":0.0024},{"s":"LE-Ca-SPS","x":1679.8,"y":0.0033},{"s":"LE-Ca-SPS","x":1682.1,"y":0.0026},{"s":"LE-Ca-SPS","x":1684.4,"y":0.0024},{"s":"LE-Ca-SPS","x":1686.7,"y":0.0026},{"s":"LE-Ca-SPS","x":1689.0,"y":0.0029},{"s":"LE-Ca-SPS","x":1691.3,"y":0.0026},{"s":"LE-Ca-SPS","x":1693.6,"y":0.0024},{"s":"LE-Ca-SPS","x":1695.9,"y":0.0026},{"s":"LE-Ca-SPS","x":1698.2,"y":0.0029},{"s":"LE-Ca-SPS","x":1700.5,"y":0.0026},{"s":"LE-Ca-SPS","x":1702.8,"y":0.0029},{"s":"LE-Ca-SPS","x":1705.0,"y":0.0026},{"s":"LE-Ca-SPS","x":1707.3,"y":0.0024},{"s":"LE-Ca-SPS","x":1709.6,"y":0.0026},{"s":"LE-Ca-SPS","x":1711.9,"y":0.002},{"s":"LE-Ca-SPS","x":1714.2,"y":0.0016},{"s":"LE-Ca-SPS","x":1716.5,"y":0.0024},{"s":"LE-Ca-SPS","x":1718.8,"y":0.0024},{"s":"LE-Ca-SPS","x":1721.1,"y":0.0022},{"s":"LE-Ca-SPS","x":1723.4,"y":0.0024},{"s":"LE-Ca-SPS","x":1725.7,"y":0.0022},
      {"s":"LLE-Ca-SPS","x":1489.8,"y":0.00577},{"s":"LLE-Ca-SPS","x":1491.3,"y":0.00302},{"s":"LLE-Ca-SPS","x":1492.8,"y":-0.00184},{"s":"LLE-Ca-SPS","x":1494.3,"y":0.00514},{"s":"LLE-Ca-SPS","x":1495.9,"y":0.0026},{"s":"LLE-Ca-SPS","x":1496.6,"y":0.00641},{"s":"LLE-Ca-SPS","x":1498.2,"y":0.00091},{"s":"LLE-Ca-SPS","x":1499.4,"y":0.00767},{"s":"LLE-Ca-SPS","x":1500.5,"y":0.00408},{"s":"LLE-Ca-SPS","x":1502.0,"y":0.00662},{"s":"LLE-Ca-SPS","x":1503.5,"y":0.00345},{"s":"LLE-Ca-SPS","x":1505.0,"y":0.0045},{"s":"LLE-Ca-SPS","x":1506.6,"y":0.0026},{"s":"LLE-Ca-SPS","x":1508.1,"y":0.00704},{"s":"LLE-Ca-SPS","x":1509.6,"y":0.00408},{"s":"LLE-Ca-SPS","x":1511.2,"y":0.00429},{"s":"LLE-Ca-SPS","x":1512.7,"y":0.00175},{"s":"LLE-Ca-SPS","x":1515.0,"y":0.00091},{"s":"LLE-Ca-SPS","x":1516.5,"y":0.00873},{"s":"LLE-Ca-SPS","x":1518.0,"y":0.00387},{"s":"LLE-Ca-SPS","x":1519.6,"y":0.00831},{"s":"LLE-Ca-SPS","x":1521.1,"y":0.0045},{"s":"LLE-Ca-SPS","x":1522.6,"y":0.00725},{"s":"LLE-Ca-SPS","x":1524.2,"y":0.00429},{"s":"LLE-Ca-SPS","x":1525.7,"y":0.00746},{"s":"LLE-Ca-SPS","x":1527.2,"y":0.00471},{"s":"LLE-Ca-SPS","x":1529.1,"y":0.00831},{"s":"LLE-Ca-SPS","x":1530.6,"y":0.00408},{"s":"LLE-Ca-SPS","x":1532.6,"y":0.00746},{"s":"LLE-Ca-SPS","x":1534.1,"y":0.0081},{"s":"LLE-Ca-SPS","x":1535.6,"y":0.00471},{"s":"LLE-Ca-SPS","x":1537.2,"y":0.00789},{"s":"LLE-Ca-SPS","x":1538.7,"y":0.00641},{"s":"LLE-Ca-SPS","x":1540.2,"y":0.0081},{"s":"LLE-Ca-SPS","x":1541.7,"y":0.00662},{"s":"LLE-Ca-SPS","x":1544.0,"y":0.00873},{"s":"LLE-Ca-SPS","x":1545.6,"y":0.00641},{"s":"LLE-Ca-SPS","x":1547.1,"y":0.01201},{"s":"LLE-Ca-SPS","x":1548.6,"y":0.00873},{"s":"LLE-Ca-SPS","x":1550.2,"y":0.01085},{"s":"LLE-Ca-SPS","x":1551.7,"y":0.01},{"s":"LLE-Ca-SPS","x":1552.4,"y":0.00835},{"s":"LLE-Ca-SPS","x":1554.7,"y":0.01131},{"s":"LLE-Ca-SPS","x":1556.3,"y":0.00856},{"s":"LLE-Ca-SPS","x":1557.8,"y":0.01216},{"s":"LLE-Ca-SPS","x":1559.3,"y":0.0129},{"s":"LLE-Ca-SPS","x":1560.9,"y":0.00941},{"s":"LLE-Ca-SPS","x":1562.4,"y":0.01047},{"s":"LLE-Ca-SPS","x":1563.9,"y":0.01152},{"s":"LLE-Ca-SPS","x":1565.4,"y":0.00708},{"s":"LLE-Ca-SPS","x":1567.0,"y":0.01025},{"s":"LLE-Ca-SPS","x":1568.5,"y":0.00941},{"s":"LLE-Ca-SPS","x":1570.0,"y":0.00835},{"s":"LLE-Ca-SPS","x":1571.6,"y":0.00856},{"s":"LLE-Ca-SPS","x":1573.1,"y":0.00983},{"s":"LLE-Ca-SPS","x":1574.6,"y":0.00772},{"s":"LLE-Ca-SPS","x":1576.1,"y":0.00941},{"s":"LLE-Ca-SPS","x":1577.7,"y":0.00666},{"s":"LLE-Ca-SPS","x":1580.0,"y":0.00814},{"s":"LLE-Ca-SPS","x":1582.3,"y":0.0056},{"s":"LLE-Ca-SPS","x":1584.6,"y":0.00899},{"s":"LLE-Ca-SPS","x":1586.1,"y":0.00518},{"s":"LLE-Ca-SPS","x":1588.4,"y":0.00645},{"s":"LLE-Ca-SPS","x":1590.7,"y":0.00581},{"s":"LLE-Ca-SPS","x":1593.0,"y":0.00476},{"s":"LLE-Ca-SPS","x":1594.5,"y":0.0056},{"s":"LLE-Ca-SPS","x":1596.0,"y":0.00328},{"s":"LLE-Ca-SPS","x":1598.3,"y":0.00518},{"s":"LLE-Ca-SPS","x":1600.6,"y":0.0037},{"s":"LLE-Ca-SPS","x":1602.9,"y":0.00518},{"s":"LLE-Ca-SPS","x":1604.4,"y":0.00243},{"s":"LLE-Ca-SPS","x":1606.0,"y":0.00159},{"s":"LLE-Ca-SPS","x":1607.5,"y":0.00328},{"s":"LLE-Ca-SPS","x":1609.8,"y":0.00307},{"s":"LLE-Ca-SPS","x":1611.3,"y":0.00793},{"s":"LLE-Ca-SPS","x":1612.8,"y":0.00201},{"s":"LLE-Ca-SPS","x":1614.8,"y":0.00412},{"s":"LLE-Ca-SPS","x":1617.1,"y":0.00264},{"s":"LLE-Ca-SPS","x":1618.7,"y":0.00624},{"s":"LLE-Ca-SPS","x":1620.2,"y":0.00264},{"s":"LLE-Ca-SPS","x":1622.5,"y":0.00455},{"s":"LLE-Ca-SPS","x":1624.0,"y":0.0037},{"s":"LLE-Ca-SPS","x":1626.3,"y":0.00476},{"s":"LLE-Ca-SPS","x":1627.8,"y":0.00603},{"s":"LLE-Ca-SPS","x":1630.1,"y":0.00455},{"s":"LLE-Ca-SPS","x":1632.4,"y":0.00581},{"s":"LLE-Ca-SPS","x":1633.9,"y":0.00433},{"s":"LLE-Ca-SPS","x":1635.5,"y":0.00603},{"s":"LLE-Ca-SPS","x":1637.0,"y":0.00856},{"s":"LLE-Ca-SPS","x":1638.5,"y":0.00899},{"s":"LLE-Ca-SPS","x":1640.1,"y":0.00666},{"s":"LLE-Ca-SPS","x":1641.6,"y":0.00349},{"s":"LLE-Ca-SPS","x":1643.1,"y":0.00455},{"s":"LLE-Ca-SPS","x":1645.4,"y":0.0037},{"s":"LLE-Ca-SPS","x":1646.9,"y":0.00159},{"s":"LLE-Ca-SPS","x":1648.5,"y":0.00116},{"s":"LLE-Ca-SPS","x":1650.0,"y":0.00412},{"s":"LLE-Ca-SPS","x":1652.3,"y":0.00328},{"s":"LLE-Ca-SPS","x":1654.6,"y":0.00243},{"s":"LLE-Ca-SPS","x":1656.1,"y":0.00074},{"s":"LLE-Ca-SPS","x":1658.4,"y":0.00243},{"s":"LLE-Ca-SPS","x":1660.7,"y":-0.00011},{"s":"LLE-Ca-SPS","x":1662.2,"y":0.00222},{"s":"LLE-Ca-SPS","x":1663.8,"y":0.00285},{"s":"LLE-Ca-SPS","x":1666.1,"y":0.0018},{"s":"LLE-Ca-SPS","x":1668.3,"y":0.00032},{"s":"LLE-Ca-SPS","x":1669.9,"y":0.00159},{"s":"LLE-Ca-SPS","x":1672.2,"y":0.00201},{"s":"LLE-Ca-SPS","x":1673.7,"y":0.0037},{"s":"LLE-Ca-SPS","x":1675.2,"y":0.00116},{"s":"LLE-Ca-SPS","x":1677.5,"y":0.00285},{"s":"LLE-Ca-SPS","x":1679.8,"y":0.00159},{"s":"LLE-Ca-SPS","x":1682.1,"y":0.00243},{"s":"LLE-Ca-SPS","x":1684.4,"y":0.00116},{"s":"LLE-Ca-SPS","x":1686.7,"y":0.00074},{"s":"LLE-Ca-SPS","x":1689.0,"y":0.00116},{"s":"LLE-Ca-SPS","x":1691.3,"y":0.00032},{"s":"LLE-Ca-SPS","x":1693.6,"y":-0.00053},{"s":"LLE-Ca-SPS","x":1695.9,"y":-0.00011},{"s":"LLE-Ca-SPS","x":1698.2,"y":-0.00116},{"s":"LLE-Ca-SPS","x":1700.5,"y":0.00497},{"s":"LLE-Ca-SPS","x":1702.0,"y":0.00032},{"s":"LLE-Ca-SPS","x":1704.3,"y":0.00201},{"s":"LLE-Ca-SPS","x":1706.6,"y":-0.00053},{"s":"LLE-Ca-SPS","x":1708.9,"y":0.00074},{"s":"LLE-Ca-SPS","x":1711.2,"y":-0.00011},{"s":"LLE-Ca-SPS","x":1713.5,"y":-0.00201},{"s":"LLE-Ca-SPS","x":1715.0,"y":0.00116},{"s":"LLE-Ca-SPS","x":1717.3,"y":0.00032},{"s":"LLE-Ca-SPS","x":1719.6,"y":0.0018},{"s":"LLE-Ca-SPS","x":1721.9,"y":-0.00053},{"s":"LLE-Ca-SPS","x":1724.2,"y":0.00074},{"s":"LLE-Ca-SPS","x":1725.3,"y":0.00116}
    ]
  },
  "spacing": 119,
  "bounds": "flush",
  "resolve": {"scale": {"color": "independent", "x": "independent", "y": "independent"}, "legend": {"color": "independent"}},
  "hconcat": [
    {
      "width": 521,
      "height": 519,
      "data": {"name": "ssp"},
      "title": {"text": "a)", "anchor": "start", "frame": "group", "orient": "top", "offset": -102, "dx": 13, "baseline": "alphabetic", "fontSize": 35, "fontWeight": "normal", "font": "Liberation Sans", "color": "#000000"},
      "layer": [
        {
          "mark": {"type": "line", "strokeWidth": 5, "strokeJoin": "round", "clip": true},
          "encoding": {
            "x": {"field": "x", "type": "quantitative", "scale": {"domain": [1580, 1720], "nice": false, "zero": false},
              "axis": {"orient": "bottom", "values": [1590,1600,1610,1620,1630,1640,1650,1660,1670,1680,1690,1700,1710], "format": "d", "tickSize": {"condition": {"test": "datum.value % 50 === 0", "value": -15}, "value": -8}, "labelExpr": "datum.value % 50 === 0 ? datum.label : ''", "labelPadding": 34, "title": "Wavenumber (cm⁻¹)", "titlePadding": 11, "titleX": 272}},
            "y": {"field": "y", "type": "quantitative", "scale": {"domain": [-0.003, 0.03], "nice": false, "zero": false},
              "axis": {"orient": "left", "values": [0, 0.005, 0.01, 0.015, 0.02, 0.025, 0.03], "format": ".2f", "tickSize": {"condition": {"test": "round(datum.value*1000) % 10 === 0", "value": 15}, "value": 8}, "labelExpr": "round(datum.value*1000) % 10 === 0 ? datum.label : ''", "labelPadding": 10, "title": "SFG Intensity (a.u.)", "titlePadding": 37, "titleY": 233}},
            "color": {"field": "s", "type": "nominal", "sort": null, "scale": {"domain": ["OPN-Ca-SSP", "LE-Ca-SSP", "LLE-Ca-SSP"], "range": ["#FF0000", "#00FF00", "#C8C8C8"]},
              "legend": {"orient": "none", "legendX": 204.5, "legendY": 34.5, "title": null, "symbolType": "M-3,0H3", "symbolSize": 822, "symbolStrokeWidth": 5, "labelFontSize": 35, "labelFont": "Liberation Sans", "labelColor": "#000000", "labelOffset": 32.5, "rowPadding": 10.5, "padding": 0, "labelLimit": 0}}
          }
        },
        {
          "mark": {"type": "line", "opacity": 0},
          "encoding": {
            "x": {"field": "x", "type": "quantitative", "axis": {"orient": "top", "values": [1590,1600,1610,1620,1630,1640,1650,1660,1670,1680,1690,1700,1710], "tickSize": {"condition": {"test": "datum.value % 50 === 0", "value": -15}, "value": -8}, "labels": false, "title": null}},
            "y": {"field": "y", "type": "quantitative", "axis": {"orient": "right", "ticks": false, "labels": false, "title": null}}
          }
        }
      ],
      "resolve": {"axis": {"x": "independent", "y": "independent"}}
    },
    {
      "width": 513,
      "height": 519,
      "data": {"name": "sps"},
      "title": {"text": "b)", "anchor": "start", "frame": "group", "orient": "top", "offset": -102, "dx": 21, "baseline": "alphabetic", "fontSize": 35, "fontWeight": "normal", "font": "Liberation Sans", "color": "#000000"},
      "layer": [
        {
          "mark": {"type": "line", "strokeWidth": 5, "strokeJoin": "round", "clip": true},
          "encoding": {
            "x": {"field": "x", "type": "quantitative", "scale": {"domain": [1490, 1725.3], "nice": false, "zero": false},
              "axis": {"orient": "bottom", "values": [1500,1510,1520,1530,1540,1550,1560,1570,1580,1590,1600,1610,1620,1630,1640,1650,1660,1670,1680,1690,1700,1710,1720], "format": "d", "tickSize": {"condition": {"test": "datum.value % 50 === 0", "value": -15}, "value": -8}, "labelExpr": "datum.value % 50 === 0 ? datum.label : ''", "labelPadding": 34, "title": "Wavenumber (cm⁻¹)", "titlePadding": 11, "titleX": 267}},
            "y": {"field": "y", "type": "quantitative", "scale": {"domain": [-0.003, 0.03], "nice": false, "zero": false},
              "axis": {"orient": "left", "values": [0, 0.005, 0.01, 0.015, 0.02, 0.025, 0.03], "format": ".2f", "tickSize": {"condition": {"test": "round(datum.value*1000) % 10 === 0", "value": 15}, "value": 8}, "labelExpr": "round(datum.value*1000) % 10 === 0 ? datum.label : ''", "labelPadding": 10, "title": null}},
            "color": {"field": "s", "type": "nominal", "sort": null, "scale": {"domain": ["OPN-Ca-SPS", "LE-Ca-SPS", "LLE-Ca-SPS"], "range": ["#FF0000", "#00FF00", "#C8C8C8"]},
              "legend": {"orient": "none", "legendX": 194.8, "legendY": 42.8, "title": null, "symbolType": "M-3,0H3", "symbolSize": 822, "symbolStrokeWidth": 5, "labelFontSize": 35, "labelFont": "Liberation Sans", "labelColor": "#000000", "labelOffset": 32.5, "rowPadding": 10.5, "padding": 0, "labelLimit": 0}}
          }
        },
        {
          "mark": {"type": "line", "opacity": 0},
          "encoding": {
            "x": {"field": "x", "type": "quantitative", "axis": {"orient": "top", "values": [1500,1510,1520,1530,1540,1550,1560,1570,1580,1590,1600,1610,1620,1630,1640,1650,1660,1670,1680,1690,1700,1710,1720], "tickSize": {"condition": {"test": "datum.value % 50 === 0", "value": -15}, "value": -8}, "labels": false, "title": null}},
            "y": {"field": "y", "type": "quantitative", "axis": null}
          }
        }
      ],
      "resolve": {"axis": {"x": "independent", "y": "independent"}}
    }
  ]
}
